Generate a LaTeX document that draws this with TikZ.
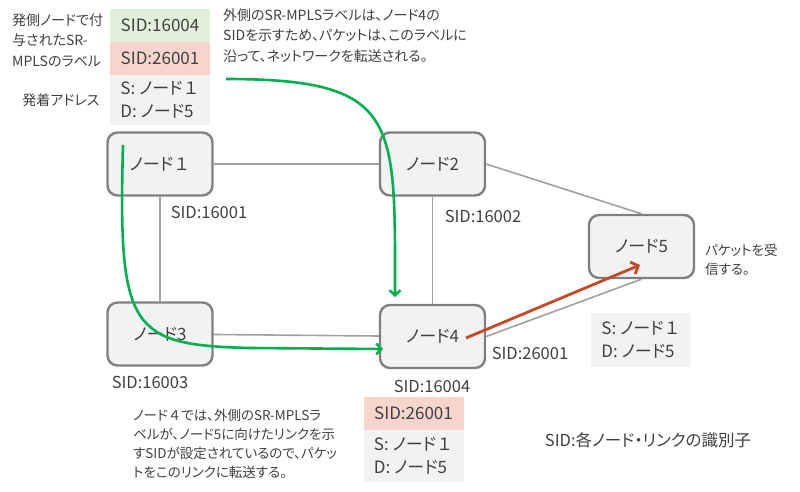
\documentclass[tikz,border=0pt]{standalone}
\usepackage{fontspec}
\setmainfont[RawFeature=+palt]{Noto Sans CJK JP}
\usepackage{tikz}
\usetikzlibrary{arrows.meta}
\pgfdeclarelayer{edgelayer}
\pgfdeclarelayer{nodelayer}
\pgfsetlayers{edgelayer,nodelayer,main}
\newcommand{\fwdigit}[1]{{\addfontfeature{RawFeature=-palt}#1}}
\definecolor{boxline}{RGB}{127,127,127}
\definecolor{boxfill}{RGB}{242,242,242}
\definecolor{linkgray}{RGB}{160,160,160}
\definecolor{txt}{RGB}{64,64,64}
\definecolor{sidgreen}{RGB}{226,239,218}
\definecolor{sidred}{RGB}{246,213,205}
\definecolor{pathgreen}{RGB}{0,176,80}
\definecolor{pathred}{RGB}{197,72,40}
\tikzstyle{none} = [inner sep=0pt, text=txt]
\tikzstyle{router} = [draw=boxline, fill=boxfill, line width=2.4pt, rounded corners=10pt, minimum width=105pt, minimum height=63pt, text=txt, font=\fontsize{17}{20}\selectfont]
\tikzstyle{link} = [draw=linkgray, line width=1.6pt]
\tikzstyle{sid} = [inner sep=0pt, text=txt, font=\fontsize{16.5}{20}\selectfont]
\tikzstyle{note} = [inner sep=0pt, text=txt, align=left, anchor=west, font=\fontsize{14}{20.5}\selectfont]
\tikzstyle{label green} = [fill=sidgreen, minimum width=100pt, minimum height=33pt, inner sep=0pt, text=txt, font=\fontsize{17}{20}\selectfont]
\tikzstyle{label red} = [fill=sidred, minimum width=100pt, minimum height=33pt, inner sep=0pt, text=txt, font=\fontsize{17}{20}\selectfont]
\tikzstyle{address} = [fill=boxfill, minimum width=100pt, inner sep=0pt, align=left, text=txt, font=\fontsize{17}{23}\selectfont]
\tikzstyle{green path} = [draw=pathgreen, line width=2.6pt, -{Straight Barb[length=5pt,width=11pt]}]
\tikzstyle{red path} = [draw=pathred, line width=2.8pt, -{Straight Barb[length=6pt,width=13pt]}]

\begin{document}
\begin{tikzpicture}[x=1pt, y=-1pt]
	\useasboundingbox (0, 0) rectangle (800, 492);
	\begin{pgfonlayer}{nodelayer}
		\node [style=router] (1) at (160, 164) {ノード\fwdigit{１}};
		\node [style=router] (2) at (432.5, 164) {ノード2};
		\node [style=router] (3) at (160, 334) {ノード3};
		\node [style=router] (4) at (432.5, 336.5) {ノード4};
		\node [style=router] (5) at (641.5, 246.5) {ノード5};
		\node [style=sid] (6) at (209, 212) {SID:16001};
		\node [style=sid] (7) at (483, 216) {SID:16002};
		\node [style=sid] (8) at (150, 382) {SID:16003};
		\node [style=sid] (9) at (432, 386) {SID:16004};
		\node [style=sid] (10) at (530, 353) {SID:26001};
		\node [style=label green] (11) at (160, 25.5) {SID:16004};
		\node [style=label red] (12) at (160, 58.5) {SID:26001};
		\node [style=address, minimum height=50pt] (13) at (160, 100) {S: ノード\fwdigit{１}\\D: ノード5};
		\node [style=label red] (14) at (413.5, 413.5) {SID:26001};
		\node [style=address, minimum height=52pt] (15) at (413.5, 456) {S: ノード\fwdigit{１}\\D: ノード5};
		\node [style=address, minimum height=54pt] (16) at (641, 340) {S: ノード\fwdigit{１}\\D: ノード5};
		\node [style=note] (17) at (12, 40) {発側ノードで付\\与されたSR-\\MPLSのラベル};
		\node [style=none, font=\fontsize{14}{20}\selectfont] (18) at (61, 100) {発着アドレス};
		\node [style=note] (19) at (223, 35.5) {外側のSR-MPLSラベルは、ノード4の\\SIDを示すため、パケットは、このラベルに\\沿って、ネットワークを転送される。};
		\node [style=note, font=\fontsize{13.5}{19}\selectfont] (20) at (705, 259.5) {パケットを受\\信する。};
		\node [style=note, font=\fontsize{13.5}{19}\selectfont] (21) at (133, 443.5) {ノード\fwdigit{４}では、外側のSR-MPLSラ\\ベルが、ノード5に向けたリンクを示\\すSIDが設定されているので、パケッ\\トをこのリンクに転送する。};
		\node [style=none, font=\fontsize{16.5}{20}\selectfont] (22) at (648, 440) {SID:各ノード・リンクの識別子};
	\end{pgfonlayer}
	\begin{pgfonlayer}{edgelayer}
		\draw [style=link] (1) to (2);
		\draw [style=link] (1) to (3);
		\draw [style=link] (2) to (4);
		\draw [style=link] (3) to (4);
		\draw [style=link] (2.east) to (5.north);
		\draw [style=link] (4.east) to (5.south);
	\end{pgfonlayer}
	\coordinate (23) at (226, 79);
	\coordinate (24) at (395, 297);
	\coordinate (25) at (123, 145);
	\coordinate (26) at (383, 349);
	\coordinate (27) at (466, 338);
	\coordinate (28) at (640, 265);
	\draw [style=green path] (23) .. controls (400, 79) and (395, 120) .. (24);
	\draw [style=green path] (25) .. controls (118, 330) and (130, 345) .. (250, 348) to (26);
	\draw [style=red path] (27) to (28);
\end{tikzpicture}
\end{document}
